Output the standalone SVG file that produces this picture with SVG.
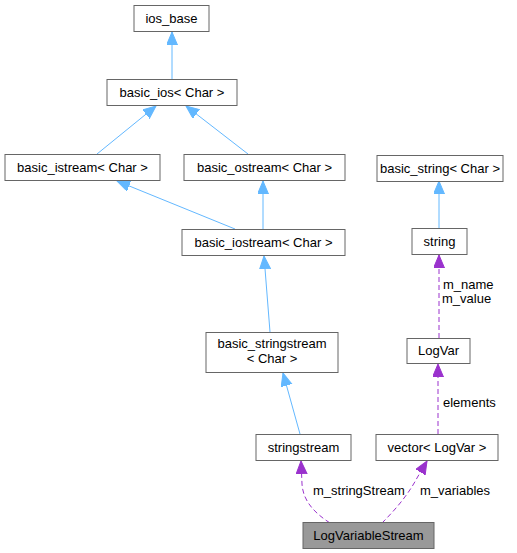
<svg xmlns="http://www.w3.org/2000/svg" width="517" height="553" viewBox="0 0 517 553">
<defs>
<style>
text{font-family:"Liberation Sans",Arial,sans-serif;font-size:13px;fill:#000}
.n rect{fill:#fff;stroke:#666;stroke-width:1}
.n text{text-anchor:middle}
.inh{fill:none;stroke:#63b8ff;stroke-width:1}
.use{fill:none;stroke:#9a32cd;stroke-width:1;stroke-dasharray:5,3}
</style>
<marker id="ab" markerUnits="userSpaceOnUse" markerWidth="14" markerHeight="12" refX="13" refY="5.5" orient="auto" viewBox="0 0 14 12">
<path d="M0,0 L13,5.5 L0,11 Z" fill="#63b8ff" stroke="#63b8ff"/>
</marker>
<marker id="ap" markerUnits="userSpaceOnUse" markerWidth="14" markerHeight="12" refX="13" refY="5.5" orient="auto" viewBox="0 0 14 12">
<path d="M0,0 L13,5.5 L0,11 Z" fill="#9a32cd" stroke="#9a32cd"/>
</marker>
</defs>
<g id="edges">
<path class="inh" d="M172,79 L172,32" marker-end="url(#ab)"/>
<path class="inh" d="M97,154 L156,106" marker-end="url(#ab)"/>
<path class="inh" d="M248,154 L186,106" marker-end="url(#ab)"/>
<path class="inh" d="M235,229 L117,181" marker-end="url(#ab)"/>
<path class="inh" d="M263,229 L263,181" marker-end="url(#ab)"/>
<path class="inh" d="M270,332 L264,256" marker-end="url(#ab)"/>
<path class="inh" d="M300,434 L283,373" marker-end="url(#ab)"/>
<path class="inh" d="M439,228 L439,181" marker-end="url(#ab)"/>
<path class="use" d="M439,338 L439,255" marker-end="url(#ap)"/>
<path class="use" d="M438,434 L438,364" marker-end="url(#ap)"/>
<path class="use" d="M330,523 C313,512 303,500 302,484 L301,461" marker-end="url(#ap)"/>
<path class="use" d="M382,523 C395,510 408,495 417,478 L427,461" marker-end="url(#ap)"/>
<text x="443" y="289">m_name</text>
<text x="442" y="303">m_value</text>
<text x="443" y="407">elements</text>
<text x="313" y="495">m_stringStream</text>
<text x="420" y="495">m_variables</text>
</g>
<g id="ios_base" class="n"><rect x="134" y="5.5" width="75" height="26"/><text x="171.5" y="23">ios_base</text></g>
<g id="basic_ios" class="n"><rect x="107" y="79.5" width="130" height="26"/><text x="172" y="97">basic_ios&lt; Char &gt;</text></g>
<g id="basic_istream" class="n"><rect x="5" y="154.5" width="155" height="26"/><text x="82.5" y="172">basic_istream&lt; Char &gt;</text></g>
<g id="basic_ostream" class="n"><rect x="184" y="154.5" width="161" height="26"/><text x="264.5" y="172">basic_ostream&lt; Char &gt;</text></g>
<g id="basic_iostream" class="n"><rect x="182" y="229.5" width="163" height="26"/><text x="263.5" y="247">basic_iostream&lt; Char &gt;</text></g>
<g id="basic_stringstream" class="n"><rect x="206" y="332.5" width="132" height="40"/><text x="272" y="348">basic_stringstream</text><text x="272" y="363">&lt; Char &gt;</text></g>
<g id="stringstream" class="n"><rect x="256" y="434.5" width="95" height="26"/><text x="303.5" y="452">stringstream</text></g>
<g id="vector_LogVar" class="n"><rect x="376" y="434.5" width="122" height="26"/><text x="437" y="452">vector&lt; LogVar &gt;</text></g>
<g id="basic_string" class="n"><rect x="377" y="155.5" width="126" height="26"/><text x="440" y="173">basic_string&lt; Char &gt;</text></g>
<g id="string" class="n"><rect x="412" y="228.5" width="55" height="26"/><text x="439.5" y="246">string</text></g>
<g id="LogVar" class="n"><rect x="407" y="338.5" width="63" height="25"/><text x="438.5" y="355">LogVar</text></g>
<g id="LogVariableStream" class="n"><rect x="303" y="522.5" width="131" height="26" style="fill:#999"/><text x="368.5" y="540">LogVariableStream</text></g>
</svg>
